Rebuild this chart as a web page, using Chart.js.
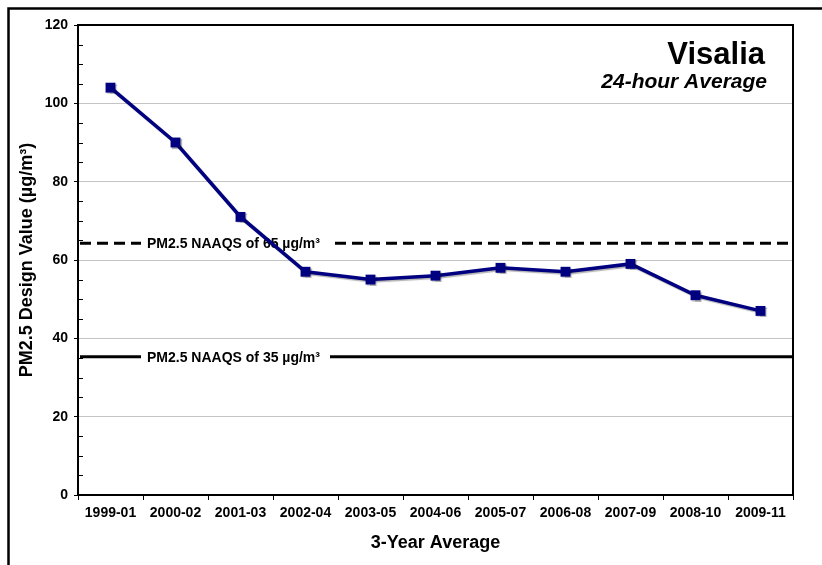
<!DOCTYPE html>
<html>
<head>
<meta charset="utf-8">
<script src="https://cdn.jsdelivr.net/npm/chart.js@4/dist/chart.umd.min.js"></script>
<style>
  html, body { margin: 0; padding: 0; background: #fff; }
  canvas { display: block; }
</style>
</head>
<body>
<canvas id="pmChart" width="822" height="565"></canvas>
<script>
// Visalia PM2.5 design values, 24-hour average

const categories = ['1999-01', '2000-02', '2001-03', '2002-04', '2003-05', '2004-06',
                    '2005-07', '2006-08', '2007-09', '2008-10', '2009-11'];
const designValues = [104, 90, 71, 57, 55, 56, 58, 57, 59, 51, 47];

// standard lines as they sit on the picture
const standardLevels = [64.3, 35.3];
const standardLabels = ['PM2.5 NAAQS of 65 µg/m³', 'PM2.5 NAAQS of 35 µg/m³'];

const yMin = 0;
const yMax = 120;
const yMajorStep = 20;
const yMinorStep = 5;

const FONT = "'Liberation Sans', Arial, sans-serif";

// outer frame + top/right side of the plot box
const framePlugin = {
    id: 'frame',
    afterDraw(chart) {
        const ctx = chart.ctx;
        const a = chart.chartArea;
        ctx.save();
        ctx.strokeStyle = '#000';
        ctx.lineWidth = 2.5;
        ctx.beginPath();
        ctx.moveTo(8.5, chart.height);
        ctx.lineTo(8.5, 8.5);
        ctx.lineTo(chart.width, 8.5);
        ctx.stroke();

        ctx.lineWidth = 2;
        ctx.beginPath();
        ctx.moveTo(a.left, a.top);
        ctx.lineTo(a.right, a.top);
        ctx.lineTo(a.right, a.bottom);
        ctx.stroke();

        // small inward ticks between the labelled values
        const y = chart.scales.y;
        ctx.lineWidth = 1;
        for (let v = yMin; v <= yMax; v += yMinorStep) {
            if (v % yMajorStep === 0) continue;
            const py = Math.round(y.getPixelForValue(v)) + 0.5;
            ctx.beginPath();
            ctx.moveTo(a.left, py);
            ctx.lineTo(a.left + 5, py);
            ctx.stroke();
        }
        ctx.restore();
    }
};

// NAAQS reference lines with boxed labels
const standardsPlugin = {
    id: 'standards',
    beforeDatasetsDraw(chart) {
        const ctx = chart.ctx;
        const a = chart.chartArea;
        const y = chart.scales.y;
        ctx.save();
        standardLevels.forEach((lvl, i) => {
            const py = y.getPixelForValue(lvl);
            ctx.strokeStyle = '#000';
            ctx.lineWidth = 3;
            ctx.setLineDash(i === 0 ? [11, 6] : []);
            ctx.beginPath();
            ctx.moveTo(a.left + 2, py);
            ctx.lineTo(a.right, py);
            ctx.stroke();
            ctx.setLineDash([]);

            ctx.font = 'bold 14px ' + FONT;
            const w = ctx.measureText(standardLabels[i]).width;
            const tx = 147;
            ctx.fillStyle = '#fff';
            ctx.fillRect(tx - 6, py - 9, w + 16, 18);
            ctx.fillStyle = '#000';
            ctx.textAlign = 'left';
            ctx.textBaseline = 'middle';
            ctx.fillText(standardLabels[i], tx, py + 1);
        });
        ctx.restore();
    }
};

const titlePlugin = {
    id: 'cornerTitle',
    afterDraw(chart) {
        const ctx = chart.ctx;
        ctx.save();
        ctx.fillStyle = '#000';
        ctx.textAlign = 'right';
        ctx.textBaseline = 'alphabetic';
        ctx.font = 'bold 31px ' + FONT;
        ctx.fillText('Visalia', 765, 64);
        ctx.font = 'italic bold 21px ' + FONT;
        ctx.fillText('24-hour Average', 767, 88);
        ctx.restore();
    }
};

const shadowPlugin = {
    id: 'markerShadow',
    beforeDatasetDraw(chart) {
        const ctx = chart.ctx;
        ctx.save();
        ctx.shadowColor = 'rgba(0, 0, 0, 0.3)';
        ctx.shadowBlur = 1;
        ctx.shadowOffsetX = 1.5;
        ctx.shadowOffsetY = 1.5;
    },
    afterDatasetDraw(chart) {
        chart.ctx.restore();
    }
};

const isMajor = v => v % yMajorStep === 0;

new Chart(document.getElementById('pmChart'), {
    type: 'line',
    data: {
        labels: categories,
        datasets: [{
            data: designValues,
            borderColor: '#000080',
            backgroundColor: '#000080',
            borderWidth: 3.5,
            pointStyle: 'rect',
            pointRadius: 7,
            pointBorderWidth: 0,
            tension: 0,
            fill: false
        }]
    },
    options: {
        responsive: false,
        animation: false,
        layout: { padding: { top: 25, right: 29, left: 0, bottom: 0 } },
        plugins: {
            legend: { display: false },
            tooltip: { enabled: false }
        },
        scales: {
            x: {
                offset: true,
                afterFit: s => { s.height = 70; },
                grid: {
                    display: true,
                    offset: true,
                    drawOnChartArea: false,
                    color: '#000',
                    tickColor: '#000',
                    tickLength: 5,
                    tickWidth: 1
                },
                border: { display: true, color: '#000', width: 2 },
                ticks: {
                    color: '#000',
                    font: { family: FONT, size: 14, weight: 'bold' },
                    padding: 5,
                    autoSkip: false,
                    maxRotation: 0
                },
                title: {
                    display: true,
                    text: '3-Year Average',
                    color: '#000',
                    font: { family: FONT, size: 18, weight: 'bold' },
                    padding: { top: 0, bottom: 11 }
                }
            },
            y: {
                min: yMin,
                max: yMax,
                afterFit: s => { s.width = 78; },
                grid: {
                    color: c => isMajor(c.tick.value) ? '#c4c4c4' : 'rgba(0,0,0,0)',
                    tickColor: c => isMajor(c.tick.value) ? '#000' : 'rgba(0,0,0,0)',
                    lineWidth: 1,
                    tickLength: 4,
                    tickWidth: 1
                },
                border: { display: true, color: '#000', width: 2 },
                ticks: {
                    stepSize: yMinorStep,
                    color: '#000',
                    font: { family: FONT, size: 14, weight: 'bold' },
                    padding: 6,
                    callback: v => isMajor(v) ? v : ''
                },
                title: {
                    display: true,
                    text: 'PM2.5 Design Value (µg/m³)',
                    color: '#000',
                    font: { family: FONT, size: 18, weight: 'bold' },
                    padding: { top: 16, bottom: 0 }
                }
            }
        }
    },
    plugins: [standardsPlugin, shadowPlugin, framePlugin, titlePlugin]
});
</script>
</body>
</html>
